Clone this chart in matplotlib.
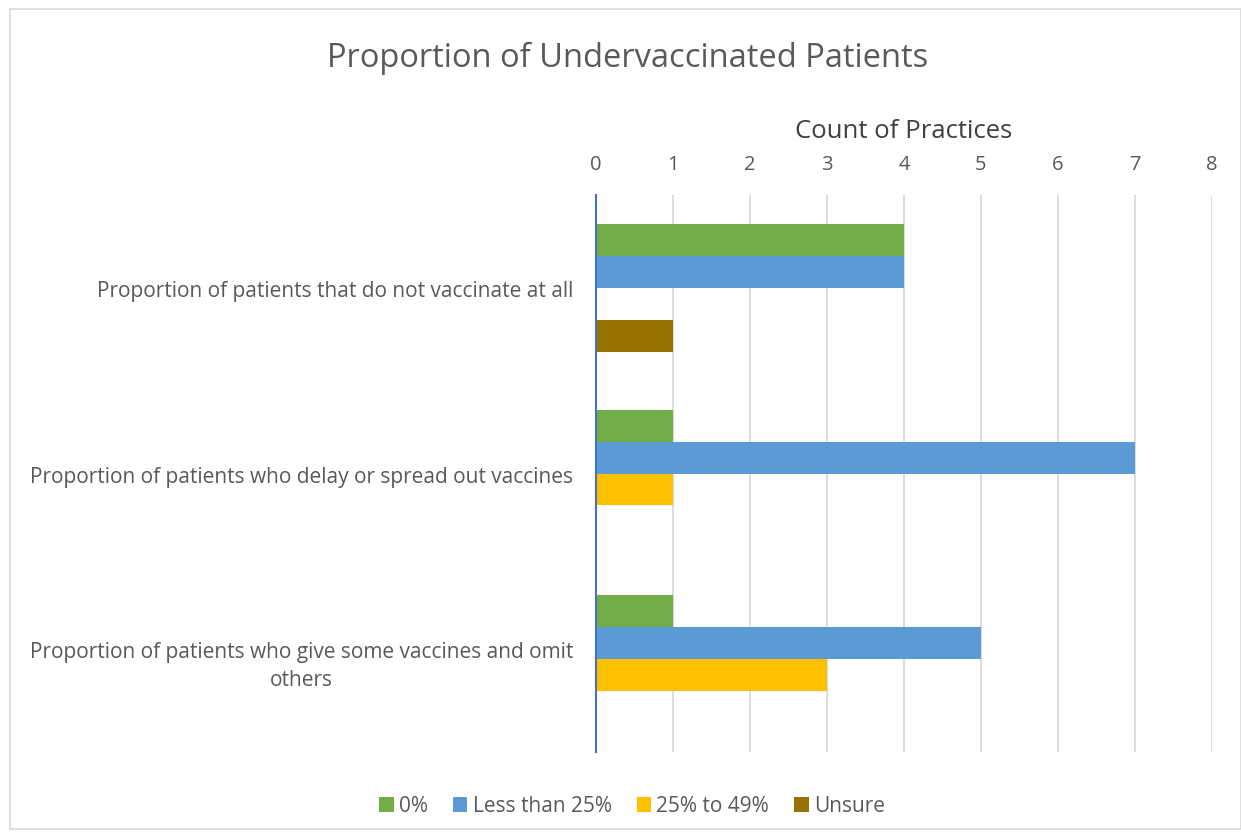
import matplotlib
matplotlib.use("Agg")
import matplotlib.pyplot as plt
import numpy as np
from matplotlib.patches import Rectangle

categories = [
    "Proportion of patients that do not vaccinate at all",
    "Proportion of patients who delay or spread out vaccines",
    "Proportion of patients who give some vaccines and omit\nothers",
]
series_names = ["0%", "Less than 25%", "25% to 49%", "Unsure"]
values_0 = [4, 1, 1]
values_lt25 = [4, 7, 5]
values_25_49 = [0, 1, 3]
values_unsure = [1, 0, 0]
colors = ["#70AD47", "#5B9BD5", "#FFC000", "#997300"]
xticks = [0, 1, 2, 3, 4, 5, 6, 7, 8]

plt.rcParams['font.family'] = ['Open Sans', 'DejaVu Sans']
text_color = "#595959"

fig = plt.figure(figsize=(12.41, 8.37), dpi=100)
ax = fig.add_axes([596/1241, 1-753/837, (1212-596)/1241, (753-196)/837])

all_vals = [values_0, values_lt25, values_25_49, values_unsure]
n = len(categories)
ypos = np.arange(n)
bar_h = 0.172
for i, (vals, name, c) in enumerate(zip(all_vals, series_names, colors)):
    offs = (i - 1.5) * bar_h
    ax.barh(ypos + offs, vals, height=bar_h, color=c, label=name, zorder=3)

ax.set_ylim(n - 0.5, -0.5)
ax.set_xlim(0, 8)
ax.set_xticks(xticks)
ax.xaxis.tick_top()
ax.xaxis.set_label_position('top')
ax.set_xlabel("Count of Practices", fontsize=18.5, color="#404040", labelpad=12)
ax.tick_params(axis='x', length=0, labelsize=14.5, colors=text_color, pad=15)
ax.set_yticks(ypos)
ax.set_yticklabels(categories, fontsize=15, color=text_color, multialignment='center',
                   linespacing=1.45)
ax.tick_params(axis='y', length=0, pad=16.5)
ax.grid(axis='x', color="#D9D9D9", linewidth=1.3, zorder=0)
for s in ['top', 'right', 'bottom']:
    ax.spines[s].set_visible(False)
ax.spines['left'].set_color("#4472C4")
ax.spines['left'].set_linewidth(1.5)
ax.spines['left'].set_zorder(4)

fig.text(628/1241, 1-58/837, "Proportion of Undervaccinated Patients", fontsize=23.5,
         color=text_color, ha='center', va='center')

handles, labels = ax.get_legend_handles_labels()
leg = fig.legend(handles, labels, loc='center', bbox_to_anchor=(632/1241, 1-807/837),
                 ncol=4, frameon=False, fontsize=15, handlelength=0.7, handleheight=0.7,
                 handletextpad=0.25, columnspacing=1.2)
for t in leg.get_texts():
    t.set_color(text_color)

fig.patches.append(Rectangle((10/1241, 1-830/837), (1241-10)/1241, (830-10)/837,
                             transform=fig.transFigure, fill=False,
                             edgecolor="#D9D9D9", linewidth=1.2))

fig.savefig("out.png", dpi=100)
